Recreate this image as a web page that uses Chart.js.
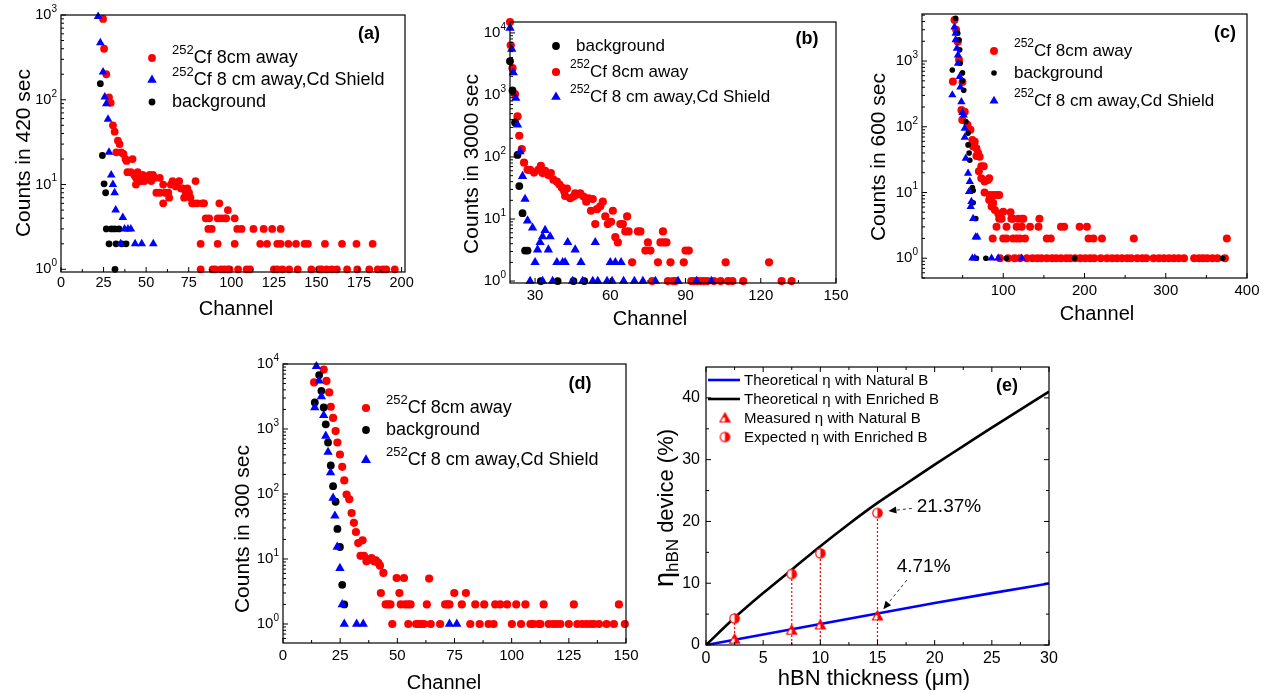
<!DOCTYPE html>
<html><head><meta charset="utf-8">
<script src="https://cdn.jsdelivr.net/npm/chart.js@4/dist/chart.umd.min.js"></script>
<style>
html,body{margin:0;padding:0;background:#fff;}
#wrap{position:relative;width:1265px;height:694px;overflow:hidden;background:#fff;}
#wrap canvas{position:absolute;left:0;top:0;}
</style></head>
<body><div id="wrap">
<canvas id="pa" width="1265" height="694"></canvas>
<canvas id="pb" width="1265" height="694"></canvas>
<canvas id="pc" width="1265" height="694"></canvas>
<canvas id="pd" width="1265" height="694"></canvas>
<canvas id="pe" width="1265" height="694"></canvas>
</div>
<script>
// ---------------- DATA ----------------
// Panel (a): counts in 420 sec  [channel, counts]
const aCf8cm = [[24.7,900],[25.3,400],[26.6,200],[28.2,107],[29.2,92],[30.5,50],[31.5,42],[33.4,33],[34.4,30],[32.5,24],[35.4,24],[36.7,23],[37.9,20],[38.5,19],[42,20],[39,14],[41,14],[43,13],[44,12],[45,14],[46,11],[48,13],[50,12],[52,13],[54,13],[55,12],[44,10],[47,11],[49,11],[53,11],[58,12],[60,10],[56,8],[58,8],[61,8],[63,8],[60,6],[63.5,7],[64.5,10],[65.5,11],[67.5,9.5],[69.4,11],[70.5,9],[71.3,9],[72.3,7],[73.3,8],[74.2,9],[75.2,8],[76,7],[77,6],[78,6],[79,11],[80,6],[83,6],[84,6],[85,4],[86.5,3],[87,4],[88.5,3],[92,4],[93,6],[94,4],[96,4],[97,4],[98,5],[102,4],[103.5,3],[106,3],[113,3],[119,3],[124,3],[129,3],
 [82,2],[92,2],[102,2],[117,2],[121,2],[127,2],[129,2],[133.5,2],[138,2],[143,2],[145,2],[155,2],[165,2],[173.5,2],[183,2],
 [82,1],[89,1],[90.5,1],[94,1],[96,1],[98,1],[99,1],[104,1],[109,1],[111,1],[125,1],[127,1],[130,1],[134,1],[139,1],[147,1],[151.5,1],[153,1],[156,1],[159,1],[162,1],[168,1],[174,1],[181,1],[186,1],[189,1],[191,1],[196,1]];
const aCfShield = [[21.8,960],[23.1,470],[24.7,213],[25.7,108],[26.6,90],[27.6,59],[28.2,24],[29.5,13],[30.5,10],[31.5,8],[32.1,5],[36.3,4.1],[37.3,3],[39.3,3],[41,3],[35,2],[43.5,2],[47.4,2],[54.2,2]];
const aBackground = [[23.1,155],[24.3,22],[25.3,10.2],[26.2,8],[26.6,3],[29.6,3],[31.5,3],[34,3],[28.2,2],[32.3,2],[35.6,2],[38.2,2],[31.7,1]];
const aXTicks = [0,25,50,75,100,125,150,175,200];

// Panel (b): counts in 3000 sec
const bBackground = [[20,3500],[21,1180],[22,360],[23,108],[23.7,34],[25,12.4],[26,3.1],[27,3.1],[32.3,1],[39,1],[45.3,1],[49.6,1]];
const bCf8cm = [[20,15000],[20.3,6300],[21,2700],[22,1030],[23,450],[23.7,220],[24.7,134],[25.6,81],[27,62],[28,62],[29.6,56],[31.3,62],[32.3,72],[33,55],[34,60],[35.3,51],[36.3,55],[37.3,43],[38.7,40],[39.7,36],[40.7,32],[41.6,28],[42.7,31],[42,23.5],[44,21.6],[45.3,23],[46,26],[47,25],[48,26],[49.3,23],[50.4,19],[51.3,21.6],[52.3,13.6],[53,21],[54,8.3],[54.7,14.4],[56,16],[57,19],[58,11],[59,8.3],[60.3,9],[61,13.6],[62,5.1],[63,4.2],[64,8.3],[65,8.3],[66.7,11],[66,6.3],[67.3,6.3],[68.7,2],[71,6.3],[72,6.3],[74,3.1],[75,4.2],[76,3.1],[76.7,1],[79,2],[80,4.2],[81,6.3],[81.3,4.2],[82.4,4.2],[83,1],[84,2],[85,1],[86,1],[89.3,2],[90,3.1],[91.3,3.1],[92.3,1],[93.3,1],[94.7,1],[96,1],[97.3,1],[98.7,1],[101.3,1],[104,1],[106,2],[107,1],[108.7,1],[113,1],[123.3,2],[128.3,1],[132.3,1]];
const bCfShield = [[20,12000],[20.7,5500],[21.3,2300],[22.3,890],[23,330],[24,122],[25,49],[26,21],[27,9.4],[29,7.2],[30,2],[31,3.2],[32,4.2],[33,5.2],[34,6.6],[35.3,3.2],[36,5.2],[38.7,2],[41,2],[42,2],[43,4.2],[46,3.2],[48.3,2],[54,4.2],[60,2],[62,2],[64.3,2],
 [28,1],[33,1],[37,1],[45,1],[49,1],[53,1],[55,1],[58.7,1],[60.7,1],[65.3,1],[69.6,1],[73,1],[78,1],[87,1],[94.4,1],[100.3,1]];
const bXTicks = [30,60,90,120,150];

// Panel (c): counts in 600 sec
const cCf8cm = [[38,490],[40,4200],[42,3000],[44,1970],[45.6,1040],[49.8,480],[48.5,180],[49.5,127],[52.6,170],[56,107],[59.6,90],[62,63],[64.9,59],[63,50],[67,47],[67,36],[71,35],[69,40],[73,25],[76,25],[70,21],[73,16.5],[77,14.7],[81,15.5],[82.7,16.5],[77,10],[83.5,9.2],[87.6,9.2],[91.7,9.2],[95,9.2],[82.7,7.7],[85.6,7.3],[85.6,6.1],[87.6,6.9],[89.7,5.4],[93.8,4.8],[95,4],[98,4],[100,5.1],[109,5],[110,4],[112,4],[118.5,4],[122.7,4],[124.7,4],[144.5,4],
 [91.7,3],[104,3],[116.5,3],[122.7,3],[133,3],[143.4,3],[171,3],[175,3],[194,3],[203,3],
 [87,2],[100,2],[104,2],[112,2],[116.5,2],[120.6,2],[126.8,2],[153.6,2],[158.5,2],[205,2],[211,2],[221.5,2],[260.7,2],[375.2,2],
 [96,1],[106,1],[114,1],[120.6,1],[129,1],[136,1],[142,1],[147,1],[153.6,1],[160,1],[165,1],[171,1],[177.5,1],[182.5,1],[188.6,1],[194.8,1],[201,1],[207,1],[212,1],[220,1],[227.7,1],[234,1],[240,1],[246,1],[252.5,1],[257.4,1],[264.8,1],[271,1],[276,1],[285,1],[291.6,1],[297.8,1],[304,1],[310,1],[316,1],[322.5,1],[334.9,1],[341,1],[346,1],[351,1],[357.5,1],[363.7,1],[372.8,1]];
const cBackground = [[41.4,4470],[44,2640],[45.6,2100],[46.4,1480],[47,925],[37.3,730],[49.8,660],[49.8,500],[51.4,360],[54,120],[56.7,80],[56.7,53],[58,40],[58.8,31],[62,11.9],[63,10.7],[63,7],[66.2,4],[67,1],[78.6,1],[104,1],[187.8,1],[370,1]];
const cCfShield = [[40,3300],[41.4,2640],[41.4,2100],[43,1560],[44.3,1230],[44.3,920],[46.4,580],[47.2,400],[37.3,305],[48.5,240],[49.8,165],[51.4,150],[52.6,95],[52.6,69],[53.9,33],[56.7,19.6],[58.8,14.7],[58,10.3],[60.8,7.3],[60,6.1],[63,4],[66,2.1],[68,2.1],[62,1],[65,1],[85.6,1],[93.8,1],[122.7,1]];
const cXTicks = [100,200,300,400];

// Panel (d): counts in 300 sec
const dCf8cm = [[13.6,5200],[17.8,8200],[19,5500],[20.2,3650],[20.9,2200],[21.9,1480],[23,930],[23.8,620],[24.9,405],[25.9,262],[26.8,162],[27.8,98],[29,83],[30,51],[31,36],[31.9,26],[32.9,17.6],[34.8,19.4],[33.9,11.2],[35.4,11.2],[36.5,9.2],[37.7,9.7],[38.7,10.3],[39.8,9.2],[40.6,9.5],[41.7,8.7],[42.4,7.9],[43.9,6.1],[42.8,3],[44.9,2],[46,2],[47,2],[47.8,1],[49.7,5.1],[52.9,5.1],[50.9,3],[51.5,2],[53.4,2],[54.8,2],[55.8,2],[54.8,1],[58.2,1],[59.2,1],[60.2,1],[61.7,1],[64.6,1],[68.7,1],[62.9,2],[63.9,5],[70.9,2],[72,2],[72.8,2],[74.9,3],[78.2,2],[80,3],[81.9,1],[84.1,2],[86,1],[88,2],[89.9,1],[92.1,1],[92.8,2],[95,2],[98,2],[100.1,1],[102,2],[106,2],[104.1,1],[108.2,1],[109.6,1],[111.8,1],[112.6,1],[114,2],[116.2,1],[118.1,1],[119.6,1],[121.3,1],[125,1],[127.2,2],[128.7,1],[130.8,1],[132.7,1],[134.5,1],[136,1],[138.2,1],[141.5,1],[144.7,1],[146.9,2],[149.5,1]];
const dBackground = [[13.9,2560],[15.8,6760],[16.8,3870],[17.8,2140],[18.7,1180],[19.7,620],[20.9,275],[21.9,132],[23,76],[23.8,29],[24.9,15.3],[25.9,4],[26.8,2]];
const dCfShield = [[14.6,9200],[15.8,5500],[16.8,3170],[13.9,2140],[17.8,1620],[18.7,780],[19.7,440],[20.8,213],[21.9,87],[22.7,46],[23.7,15.3],[24.9,7.2],[25.9,2],[26.8,1],[32.2,1],[35.1,1],[72.8,1],[76,1]];
const dXTicks = [0,25,50,75,100,125,150];

// Panel (e): efficiency vs hBN thickness
const eThickEnriched = [0,2.5,5,7.5,10,12.5,15,17.5,20,22.5,25,27.5,30];
const eTheoryEnriched = [0,4.4,8.4,12.2,16.0,19.6,23.0,26.1,29.2,32.2,35.2,38.1,41.0];
const eThickNatural = [0,5,10,15,20,25,30];
const eTheoryNatural = [0,1.7,3.4,5.1,6.8,8.4,9.95];
const eSampleThick = [2.5,7.5,10,15];
const eMeasuredNatural = [0.95,2.4,3.25,4.71];
const eExpectedEnriched = [4.3,11.5,14.85,21.37];
const eXTicks = [0,5,10,15,20,25,30];
const eYTicks = [0,10,20,30,40];

// ---------------- STYLE / HELPERS ----------------
const FONT = "'Liberation Sans', Arial, Helvetica, sans-serif";
const RED = '#ff0000', BLUE = '#0000ff', BLACK = '#000000';
const W = 1265, H = 694;

function pts(arr){ return arr.map(p => ({x:p[0], y:p[1]})); }
function zip(xs, ys){ return xs.map((x,i) => ({x, y:ys[i]})); }

function scat(arr, color, style, r, order){
  return {data: pts(arr), backgroundColor: color, borderColor: color, borderWidth: 0,
    pointStyle: style, pointRadius: r, pointHoverRadius: r, order, clip: false, showLine: false};
}

function halfCircle(){
  const c = document.createElement('canvas'); c.width = c.height = 13;
  const g = c.getContext('2d'), r = 4.7, m = 6.5;
  g.fillStyle = '#fff'; g.beginPath(); g.arc(m,m,r,0,2*Math.PI); g.fill();
  g.fillStyle = RED; g.beginPath(); g.arc(m,m,r,-Math.PI/2,Math.PI/2); g.closePath(); g.fill();
  g.strokeStyle = RED; g.lineWidth = 1.2; g.beginPath(); g.arc(m,m,r,0,2*Math.PI); g.stroke();
  return c;
}
function halfTriangle(){
  const c = document.createElement('canvas'); c.width = c.height = 13;
  const g = c.getContext('2d');
  g.fillStyle = '#fff'; g.beginPath(); g.moveTo(6.5,1.5); g.lineTo(11.5,10.5); g.lineTo(1.5,10.5); g.closePath(); g.fill();
  g.fillStyle = RED; g.beginPath(); g.moveTo(6.5,1.5); g.lineTo(11.5,10.5); g.lineTo(6.5,10.5); g.closePath(); g.fill();
  g.beginPath(); g.moveTo(6.5,1.5); g.lineTo(9,6); g.lineTo(4,6); g.closePath(); g.fill();
  g.strokeStyle = RED; g.lineWidth = 1.2; g.beginPath(); g.moveTo(6.5,1.5); g.lineTo(11.5,10.5); g.lineTo(1.5,10.5); g.closePath(); g.stroke();
  return c;
}
const HALF_C = halfCircle(), HALF_T = halfTriangle();

function drawRich(ctx, it){
  let total = 0; const ws = [];
  it.parts.forEach(p => { ctx.font = (p.b?'bold ':'') + p.s + 'px ' + FONT; const w = ctx.measureText(p.t).width; ws.push(w); total += w; });
  const main = Math.max(...it.parts.map(p => p.s));
  ctx.save(); ctx.translate(it.x, it.y); if (it.rot) ctx.rotate(-Math.PI/2);
  let x0 = it.align === 'left' ? 0 : -total/2;
  const base = main * (it.k !== undefined ? it.k : 0.36);
  ctx.textAlign = 'left'; ctx.textBaseline = 'alphabetic'; ctx.fillStyle = it.color || '#000';
  it.parts.forEach((p,i) => { ctx.font = (p.b?'bold ':'') + p.s + 'px ' + FONT; ctx.fillText(p.t, x0, base + (p.dy||0)); x0 += ws[i]; });
  ctx.restore();
}

function drawMarker(ctx, m){
  ctx.save(); ctx.fillStyle = m.c; ctx.strokeStyle = m.c;
  if (m.m === 'circle'){ ctx.beginPath(); ctx.arc(m.x, m.y, m.r, 0, 2*Math.PI); ctx.fill(); }
  else if (m.m === 'triangle'){
    const r = m.r; ctx.beginPath();
    ctx.moveTo(m.x, m.y - r); ctx.lineTo(m.x + r*0.866, m.y + r*0.5); ctx.lineTo(m.x - r*0.866, m.y + r*0.5); ctx.closePath(); ctx.fill();
  } else if (m.m === 'line'){
    ctx.lineWidth = m.w; ctx.beginPath(); ctx.moveTo(m.x - 16, m.y); ctx.lineTo(m.x + 16, m.y); ctx.stroke();
  } else if (m.m === 'img'){
    ctx.drawImage(m.img, m.x - m.img.width/2, m.y - m.img.height/2);
  }
  ctx.restore();
}

const decoPlugin = {
  id: 'deco',
  afterDraw(chart, args, o){
    const ctx = chart.ctx, a = chart.chartArea, xs = chart.scales.x, ys = chart.scales.y;
    ctx.save();
    ctx.strokeStyle = '#000'; ctx.lineWidth = 1.2;
    ctx.strokeRect(a.left, a.top, a.right - a.left, a.bottom - a.top);
    ctx.lineWidth = 1;
    const seg = (x1,y1,x2,y2) => { ctx.beginPath(); ctx.moveTo(x1,y1); ctx.lineTo(x2,y2); ctx.stroke(); };
    // x ticks (inward)
    xs.ticks.forEach(t => { const px = xs.getPixelForValue(t.value); seg(px, a.bottom, px, a.bottom - 5); if (o.mirror) seg(px, a.top, px, a.top + 5); });
    (o.xMinor || []).forEach(v => { const px = xs.getPixelForValue(v); seg(px, a.bottom, px, a.bottom - 3); if (o.mirror) seg(px, a.top, px, a.top + 3); });
    if (o.logY){
      const kmin = Math.floor(Math.log10(ys.min) + 1e-9), kmax = Math.floor(Math.log10(ys.max) + 1e-9);
      for (let k = kmin; k <= kmax; k++){
        for (let m = 1; m <= 9; m++){
          const v = m * Math.pow(10, k);
          if (v < ys.min * 0.999 || v > ys.max * 1.001) continue;
          const py = ys.getPixelForValue(v);
          seg(a.left, py, a.left + (m === 1 ? 5 : 3), py);
          if (m === 1){
            ctx.fillStyle = '#000';
            ctx.font = o.expFs + 'px ' + FONT;
            const ew = ctx.measureText(String(k)).width;
            const xr = a.left - o.yGap - ew;
            ctx.textAlign = 'left'; ctx.textBaseline = 'middle';
            ctx.fillText(String(k), xr, py - 6);
            ctx.font = o.yFs + 'px ' + FONT; ctx.textAlign = 'right';
            ctx.fillText('10', xr, py);
          }
        }
      }
    } else {
      ys.ticks.forEach(t => { const py = ys.getPixelForValue(t.value); seg(a.left, py, a.left + 5, py); if (o.mirror) seg(a.right, py, a.right - 5, py); });
      (o.yMinor || []).forEach(v => { const py = ys.getPixelForValue(v); seg(a.left, py, a.left + 3, py); if (o.mirror) seg(a.right, py, a.right - 3, py); });
    }
    // texts
    (o.texts || []).forEach(t => drawRich(ctx, t));
    // legend
    (o.legend || []).forEach(l => {
      drawMarker(ctx, l);
      drawRich(ctx, {parts: l.parts, x: l.tx, y: l.y, align: 'left', k: l.k !== undefined ? l.k : 0.28});
    });
    // annotations with arrows (data coordinates)
    (o.notes || []).forEach(n => {
      const x1 = xs.getPixelForValue(n.tail[0]), y1 = ys.getPixelForValue(n.tail[1]);
      const x2 = xs.getPixelForValue(n.tip[0]), y2 = ys.getPixelForValue(n.tip[1]);
      const ang = Math.atan2(y2 - y1, x2 - x1), hl = 8, hw = 3.5;
      const bx = x2 - hl * Math.cos(ang), by = y2 - hl * Math.sin(ang);
      ctx.strokeStyle = '#333'; ctx.lineWidth = 1; ctx.setLineDash([3,3]);
      seg(x1, y1, bx, by); ctx.setLineDash([]);
      ctx.fillStyle = '#000'; ctx.beginPath(); ctx.moveTo(x2, y2);
      ctx.lineTo(bx + hw * Math.sin(ang), by - hw * Math.cos(ang));
      ctx.lineTo(bx - hw * Math.sin(ang), by + hw * Math.cos(ang)); ctx.closePath(); ctx.fill();
      drawRich(ctx, {parts: [{t: n.text, s: 19}], x: xs.getPixelForValue(n.x), y: ys.getPixelForValue(n.y), align: 'left'});
    });
    ctx.restore();
  }
};

function makePanel(id, g, xc, yc, datasets, deco){
  const yW = 40, xH = 40;
  const yScale = yc.log ? {
      type: 'logarithmic', min: yc.min, max: yc.max,
      afterFit(s){ s.width = yW; },
      grid: {display: false, drawTicks: false}, border: {display: false},
      ticks: {display: false}
    } : {
      type: 'linear', min: yc.min, max: yc.max,
      afterFit(s){ s.width = yW; },
      afterBuildTicks(s){ s.ticks = yc.ticks.map(v => ({value: v})); },
      grid: {display: false, drawTicks: false}, border: {display: false},
      ticks: {color: '#000', padding: yc.pad, font: {family: FONT, size: yc.fs}, callback: v => String(v)}
    };
  return new Chart(document.getElementById(id), {
    type: 'scatter',
    data: {datasets},
    options: {
      responsive: false, animation: false, devicePixelRatio: 1,
      events: [],
      layout: {autoPadding: false, padding: {left: g.L - yW, right: W - g.R, top: g.T, bottom: H - g.B - xH}},
      plugins: {legend: {display: false}, tooltip: {enabled: false}, deco},
      scales: {
        x: {
          type: 'linear', min: xc.min, max: xc.max,
          afterFit(s){ s.height = xH; },
          afterBuildTicks(s){ s.ticks = xc.ticks.map(v => ({value: v})); },
          grid: {display: false, drawTicks: false}, border: {display: false},
          ticks: {autoSkip: false, maxRotation: 0, color: '#000', padding: xc.pad, font: {family: FONT, size: xc.fs}, callback: v => String(v)}
        },
        y: yScale
      }
    },
    plugins: [decoPlugin]
  });
}

function cfLabel(text, size){ return [{t: '252', s: Math.round(size*0.72), dy: -Math.round(size*0.5)}, {t: text, s: size}]; }

// ---------------- PANEL (a) ----------------
makePanel('pa', {L: 61, R: 405, T: 15, B: 272},
  {min: 0, max: 202, ticks: aXTicks, pad: 2, fs: 14.5},
  {log: true, min: 0.93, max: 1000},
  [scat(aCfShield, BLUE, 'triangle', 5, 0), scat(aBackground, BLACK, 'circle', 3.4, 1), scat(aCf8cm, RED, 'circle', 3.9, 2)],
  {logY: true, yFs: 14.5, expFs: 10, yGap: 4, xMinor: [12.5,37.5,62.5,87.5,112.5,137.5,162.5,187.5],
   texts: [
     {parts: [{t: 'Channel', s: 20}], x: 236, y: 308},
     {parts: [{t: 'Counts in 420 sec', s: 21}], x: 22.5, y: 153, rot: true},
     {parts: [{t: '(a)', s: 18, b: true}], x: 369, y: 33}
   ],
   legend: [
     {m: 'circle', c: RED, r: 3.9, x: 152, y: 58, tx: 172, parts: cfLabel('Cf 8cm away', 18)},
     {m: 'triangle', c: BLUE, r: 5.5, x: 152, y: 80, tx: 172, parts: cfLabel('Cf 8 cm away,Cd Shield', 18)},
     {m: 'circle', c: BLACK, r: 3.4, x: 152, y: 102, tx: 172, parts: [{t: 'background', s: 18}]}
   ]});

// ---------------- PANEL (b) ----------------
makePanel('pb', {L: 510, R: 836, T: 22, B: 283},
  {min: 20, max: 150, ticks: bXTicks, pad: 4, fs: 15},
  {log: true, min: 0.93, max: 15000},
  [scat(bCfShield, BLUE, 'triangle', 5.4, 0), scat(bBackground, BLACK, 'circle', 3.9, 1), scat(bCf8cm, RED, 'circle', 4.1, 2)],
  {logY: true, yFs: 15, expFs: 10, yGap: 4, xMinor: [45,75,105,135],
   texts: [
     {parts: [{t: 'Channel', s: 20}], x: 650, y: 318},
     {parts: [{t: 'Counts in 3000 sec', s: 21}], x: 470.5, y: 164, rot: true},
     {parts: [{t: '(b)', s: 18, b: true}], x: 807, y: 38}
   ],
   legend: [
     {m: 'circle', c: BLACK, r: 3.9, x: 556, y: 46, tx: 576, parts: [{t: 'background', s: 17}]},
     {m: 'circle', c: RED, r: 4.1, x: 556, y: 72, tx: 570, parts: cfLabel('Cf 8cm away', 17)},
     {m: 'triangle', c: BLUE, r: 5.6, x: 556, y: 97, tx: 570, parts: cfLabel('Cf 8 cm away,Cd Shield', 17)}
   ]});

// ---------------- PANEL (c) ----------------
makePanel('pc', {L: 922, R: 1247, T: 14, B: 278},
  {min: 0, max: 400, ticks: cXTicks, pad: 4, fs: 15},
  {log: true, min: 0.5, max: 5200},
  [scat(cCfShield, BLUE, 'triangle', 4.8, 0), scat(cBackground, BLACK, 'circle', 2.8, 1), scat(cCf8cm, RED, 'circle', 4.0, 2)],
  {logY: true, yFs: 15, expFs: 10, yGap: 4, xMinor: [50,150,250,350],
   texts: [
     {parts: [{t: 'Channel', s: 20}], x: 1097, y: 313},
     {parts: [{t: 'Counts in 600 sec', s: 21}], x: 877.5, y: 157, rot: true},
     {parts: [{t: '(c)', s: 18, b: true}], x: 1225, y: 32}
   ],
   legend: [
     {m: 'circle', c: RED, r: 4.0, x: 994, y: 51, tx: 1014, parts: cfLabel('Cf 8cm away', 17)},
     {m: 'circle', c: BLACK, r: 2.8, x: 994, y: 73, tx: 1014, parts: [{t: 'background', s: 17}]},
     {m: 'triangle', c: BLUE, r: 5.2, x: 994, y: 101, tx: 1014, parts: cfLabel('Cf 8 cm away,Cd Shield', 17)}
   ]});

// ---------------- PANEL (d) ----------------
makePanel('pd', {L: 283, R: 626, T: 364, B: 643},
  {min: 0, max: 150, ticks: dXTicks, pad: 4, fs: 15},
  {log: true, min: 0.51, max: 10000},
  [scat(dCfShield, BLUE, 'triangle', 5.4, 0), scat(dBackground, BLACK, 'circle', 3.9, 1), scat(dCf8cm, RED, 'circle', 4.1, 2)],
  {logY: true, yFs: 15, expFs: 10, yGap: 4, xMinor: [12.5,37.5,62.5,87.5,112.5,137.5],
   texts: [
     {parts: [{t: 'Channel', s: 20}], x: 444, y: 682},
     {parts: [{t: 'Counts in 300 sec', s: 21}], x: 241, y: 529, rot: true},
     {parts: [{t: '(d)', s: 18, b: true}], x: 580, y: 383}
   ],
   legend: [
     {m: 'circle', c: RED, r: 4.1, x: 366, y: 408, tx: 386, parts: cfLabel('Cf 8cm away', 18)},
     {m: 'circle', c: BLACK, r: 3.9, x: 366, y: 430, tx: 386, parts: [{t: 'background', s: 18}]},
     {m: 'triangle', c: BLUE, r: 5.8, x: 366, y: 460, tx: 386, parts: cfLabel('Cf 8 cm away,Cd Shield', 18)}
   ]});

// ---------------- PANEL (e) ----------------
const eDrops = eSampleThick.map((x, i) => ({
  data: [{x, y: 0}, {x, y: eExpectedEnriched[i]}], showLine: true, borderColor: RED, backgroundColor: RED, borderWidth: 1.2,
  borderDash: [2, 2], pointRadius: 0, order: 3, clip: false
}));
makePanel('pe', {L: 706, R: 1049, T: 367, B: 645},
  {min: 0, max: 30, ticks: eXTicks, pad: 4.4, fs: 16},
  {log: false, min: 0, max: 45, ticks: eYTicks, pad: 6, fs: 16},
  [
    {data: zip(eSampleThick, eExpectedEnriched), pointStyle: HALF_C, pointRadius: 5, showLine: false, order: 0, clip: false},
    {data: zip(eSampleThick, eMeasuredNatural), pointStyle: HALF_T, pointRadius: 5, showLine: false, order: 1, clip: false},
    ...eDrops,
    {data: zip(eThickEnriched, eTheoryEnriched), showLine: true, borderColor: BLACK, borderWidth: 2.6, pointRadius: 0, cubicInterpolationMode: 'monotone', order: 4},
    {data: zip(eThickNatural, eTheoryNatural), showLine: true, borderColor: BLUE, borderWidth: 2.6, pointRadius: 0, cubicInterpolationMode: 'monotone', order: 5}
  ],
  {logY: false, mirror: true, xMinor: [2.5,7.5,12.5,17.5,22.5,27.5], yMinor: [5,15,25,35],
   texts: [
     {parts: [{t: 'hBN thickness (\u03bcm)', s: 22}], x: 874, y: 677},
     {parts: [{t: '\u03b7', s: 27}, {t: 'hBN', s: 17, dy: 5}, {t: ' device (%)', s: 22}], x: 663, y: 508, rot: true},
     {parts: [{t: '(e)', s: 18, b: true}], x: 1007, y: 385}
   ],
   legend: [
     {m: 'line', c: BLUE, w: 2.6, x: 724, y: 380, tx: 744, k: 0.36, parts: [{t: 'Theoretical \u03b7 with Natural B', s: 15}]},
     {m: 'line', c: BLACK, w: 2.6, x: 724, y: 399, tx: 744, k: 0.36, parts: [{t: 'Theoretical \u03b7 with Enriched B', s: 15}]},
     {m: 'img', img: HALF_T, c: RED, x: 725, y: 418, tx: 744, k: 0.36, parts: [{t: 'Measured \u03b7 with Natural B', s: 15}]},
     {m: 'img', img: HALF_C, c: RED, x: 725, y: 437, tx: 744, k: 0.36, parts: [{t: 'Expected \u03b7 with Enriched B', s: 15}]}
   ],
   notes: [
     {text: eExpectedEnriched[3].toFixed(2) + '%', x: 18.43, y: 22.66, tail: [18.0, 22.1], tip: [15.95, 21.7]},
     {text: eMeasuredNatural[3].toFixed(2) + '%', x: 16.68, y: 12.95, tail: [17.56, 10.5], tip: [15.51, 5.78]}
   ]});
</script>
</body></html>
